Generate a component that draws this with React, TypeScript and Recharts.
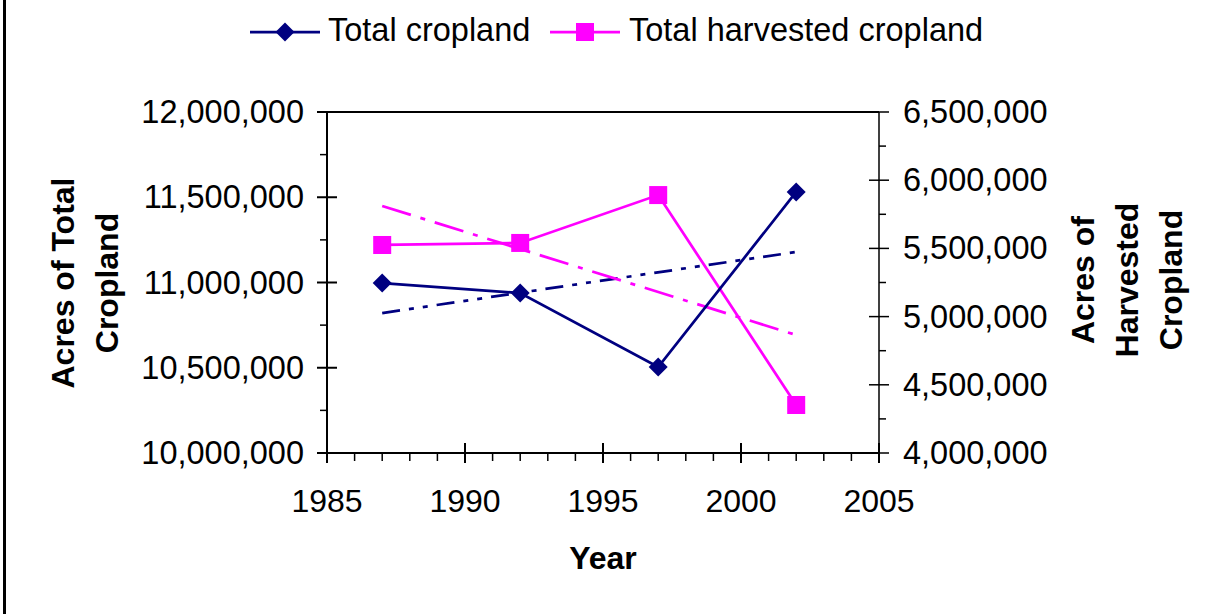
import { LineChart, Line, XAxis, YAxis, ReferenceLine } from "recharts";

const YEARS = [1987, 1992, 1997, 2002];
const TOTAL_CROPLAND = [10997000, 10938000, 10504000, 11531000];
const HARVESTED_CROPLAND = [5525000, 5540000, 5891000, 4352000];
// trend lines at their two ends
const CROPLAND_TREND = [10821000, null, null, 11179000];
const HARVESTED_TREND = [5811000, null, null, 4865000];

const YEAR_TICKS = [
  1985, 1986, 1987, 1988, 1989, 1990, 1991, 1992, 1993, 1994, 1995, 1996, 1997,
  1998, 1999, 2000, 2001, 2002, 2003, 2004, 2005,
];
const LEFT_TICKS = [
  10000000, 10250000, 10500000, 10750000, 11000000, 11250000, 11500000,
  11750000, 12000000,
];
const RIGHT_TICKS = [
  4000000, 4250000, 4500000, 4750000, 5000000, 5250000, 5500000, 5750000,
  6000000, 6250000, 6500000,
];

const SERIES_NAMES = ["Total cropland", "Total harvested cropland"];
const NAVY = "#000080";
const MAGENTA = "#FF00FF";
const FONT = "'Liberation Sans', Arial, sans-serif";

const data = YEARS.map((year, i) => ({
  year,
  cropland: TOTAL_CROPLAND[i],
  harvested: HARVESTED_CROPLAND[i],
  croplandTrend: CROPLAND_TREND[i],
  harvestedTrend: HARVESTED_TREND[i],
}));

const fmt = (v: number) => v.toLocaleString("en-US");

function XTick(props: any) {
  const { x, y, payload } = props;
  const major = payload.value % 5 === 0;
  return (
    <g>
      {major ? (
        <line x1={x} x2={x} y1={y - 10} y2={y + 10} stroke="#000" strokeWidth={2} />
      ) : (
        <line x1={x} x2={x} y1={y} y2={y + 8} stroke="#000" strokeWidth={1.5} />
      )}
      {major && (
        <text x={x} y={y + 48} textAnchor="middle" dominantBaseline="central" fontSize={32} fontFamily={FONT} fill="#000">
          {payload.value}
        </text>
      )}
    </g>
  );
}

function LeftTick(props: any) {
  const { x, y, payload } = props;
  const major = payload.value % 500000 === 0;
  return (
    <g>
      {major ? (
        <line x1={x - 10} x2={x + 10} y1={y} y2={y} stroke="#000" strokeWidth={2} />
      ) : (
        <line x1={x - 7} x2={x} y1={y} y2={y} stroke="#000" strokeWidth={1.5} />
      )}
      {major && (
        <text x={x - 23} y={y} textAnchor="end" dominantBaseline="central" fontSize={32.5} fontFamily={FONT} fill="#000">
          {fmt(payload.value)}
        </text>
      )}
    </g>
  );
}

function RightTick(props: any) {
  const { x, y, payload } = props;
  const major = payload.value % 500000 === 0;
  return (
    <g>
      {major ? (
        <line x1={x - 10} x2={x + 10} y1={y} y2={y} stroke="#000" strokeWidth={1.5} />
      ) : (
        <line x1={x} x2={x + 7} y1={y} y2={y} stroke="#000" strokeWidth={1.5} />
      )}
      {major && (
        <text x={x + 24} y={y} textAnchor="start" dominantBaseline="central" fontSize={32.5} fontFamily={FONT} fill="#000">
          {fmt(payload.value)}
        </text>
      )}
    </g>
  );
}

const Diamond = (props: any) => {
  const { cx, cy, index } = props;
  if (cx == null || cy == null) return <g key={index} />;
  return (
    <path
      key={index}
      d={`M${cx},${cy - 9.5} L${cx + 9.5},${cy} L${cx},${cy + 9.5} L${cx - 9.5},${cy} Z`}
      fill={NAVY}
    />
  );
};

const Square = (props: any) => {
  const { cx, cy, index } = props;
  if (cx == null || cy == null) return <g key={index} />;
  return <rect key={index} x={cx - 9} y={cy - 9} width={18} height={18} fill={MAGENTA} />;
};

const titleStyle: React.CSSProperties = {
  position: "absolute",
  fontFamily: FONT,
  fontWeight: 700,
  fontSize: 32,
  lineHeight: "44px",
  color: "#000",
  textAlign: "center",
  whiteSpace: "nowrap",
  transform: "translate(-50%, -50%) rotate(-90deg)",
};

export default function App() {
  return (
    <div style={{ position: "absolute", left: 0, top: 0, width: 1219, height: 614, background: "#fff" }}>
      <div style={{ position: "absolute", left: 3, top: 0, width: 3, height: 614, background: "#000" }} />

      <LineChart width={1219} height={614} data={data} margin={{ top: 112, right: 0, bottom: 0, left: 0 }}>
        <XAxis
          dataKey="year"
          type="number"
          domain={[1985, 2005]}
          ticks={YEAR_TICKS}
          interval={0}
          height={161}
          tickSize={0}
          tickMargin={0}
          tickLine={false}
          axisLine={{ stroke: "#000", strokeWidth: 2 }}
          tick={<XTick />}
        />
        <YAxis
          yAxisId="left"
          orientation="left"
          domain={[10000000, 12000000]}
          ticks={LEFT_TICKS}
          interval={0}
          width={327}
          tickSize={0}
          tickMargin={0}
          tickLine={false}
          axisLine={{ stroke: "#000", strokeWidth: 2 }}
          tick={<LeftTick />}
        />
        <YAxis
          yAxisId="right"
          orientation="right"
          domain={[4000000, 6500000]}
          ticks={RIGHT_TICKS}
          interval={0}
          width={340}
          tickSize={0}
          tickMargin={0}
          tickLine={false}
          axisLine={{ stroke: "#000", strokeWidth: 1.5 }}
          tick={<RightTick />}
        />
        <ReferenceLine yAxisId="left" y={12000000} stroke="#000" strokeWidth={2} />

        <Line
          yAxisId="left"
          dataKey="croplandTrend"
          stroke={NAVY}
          strokeWidth={2.75}
          strokeDasharray="18 9 5 9 5 9"
          dot={false}
          connectNulls
          isAnimationActive={false}
        />
        <Line
          yAxisId="right"
          dataKey="harvestedTrend"
          stroke={MAGENTA}
          strokeWidth={2.75}
          strokeDasharray="30 10 5 10"
          dot={false}
          connectNulls
          isAnimationActive={false}
        />
        <Line
          yAxisId="right"
          dataKey="harvested"
          stroke={MAGENTA}
          strokeWidth={2.75}
          dot={<Square />}
          isAnimationActive={false}
        />
        <Line
          yAxisId="left"
          dataKey="cropland"
          stroke={NAVY}
          strokeWidth={2.75}
          dot={<Diamond />}
          isAnimationActive={false}
        />
      </LineChart>

      {/* legend */}
      <svg style={{ position: "absolute", left: 0, top: 0 }} width={1219} height={60}>
        <line x1={250} x2={320} y1={32} y2={32} stroke={NAVY} strokeWidth={2.75} />
        <path d="M285,22.5 L294.5,32 L285,41.5 L275.5,32 Z" fill={NAVY} />
        <text x={328} y={30} dominantBaseline="central" fontSize={32.5} fontFamily={FONT} fill="#000">
          {SERIES_NAMES[0]}
        </text>
        <line x1={550} x2={620} y1={32} y2={32} stroke={MAGENTA} strokeWidth={2.75} />
        <rect x={576} y={23} width={18} height={18} fill={MAGENTA} />
        <text x={629} y={30} dominantBaseline="central" fontSize={32.5} fontFamily={FONT} fill="#000">
          {SERIES_NAMES[1]}
        </text>
      </svg>

      <div style={{ ...titleStyle, left: 85, top: 283 }}>
        Acres of Total
        <br />
        Cropland
      </div>
      <div style={{ ...titleStyle, left: 1127, top: 280 }}>
        Acres of
        <br />
        Harvested
        <br />
        Cropland
      </div>
      <div
        style={{
          position: "absolute",
          left: 603,
          top: 558,
          transform: "translate(-50%, -50%)",
          fontFamily: FONT,
          fontWeight: 700,
          fontSize: 32,
          color: "#000",
          whiteSpace: "nowrap",
        }}
      >
        Year
      </div>
    </div>
  );
}
